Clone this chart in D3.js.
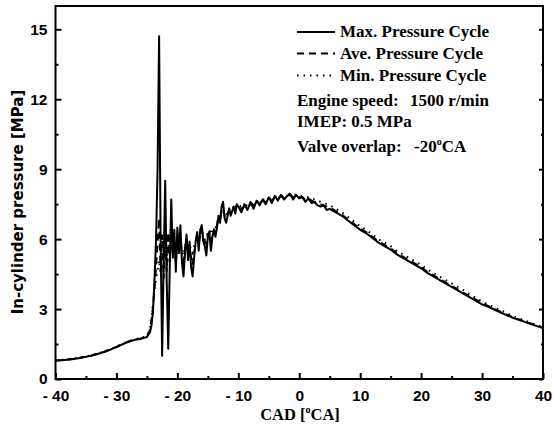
<!DOCTYPE html>
<html><head><meta charset="utf-8">
<script src="https://cdn.jsdelivr.net/npm/d3@7"></script>
<style>
html,body{margin:0;padding:0;background:#fff;}
svg{display:block;}
.tick text{font-family:"Liberation Sans",Arial,sans-serif;font-weight:bold;font-size:15.5px;fill:#000;}
.serif{font-family:"Liberation Serif","Times New Roman",serif;font-weight:bold;}
</style></head>
<body>
<svg id="c" width="554" height="427"></svg>
<script>
// ---- data ----
const cad = [-40,-39,-38,-37,-36,-35,-34,-33,-32,-31,-30,-29,-28,-27,-26,-25,
-24.75,-24.5,-24.25,-24,-23.75,-23.5,-23.25,-23,-22.75,-22.5,-22.25,-22,-21.75,-21.5,-21.25,-21,-20.75,-20.5,-20.25,-20,
-19.75,-19.5,-19.25,-19,-18.75,-18.5,-18.25,-18,-17.75,-17.5,-17.25,-17,-16.75,-16.5,-16.25,-16,-15.75,-15.5,-15.25,-15,
-14.75,-14.5,-14.25,-14,-13.75,-13.5,-13.25,-13,-12.75,-12.5,-12.25,-12,-11.75,-11.5,-11.25,-11,-10.75,-10.5,-10.25,
-10,-9.5,-9,-8.5,-8,-7.5,-7,-6.5,-6,-5.5,-5,-4.5,-4,-3.5,-3,-2.5,-2,-1.5,-1,-0.5,0,0.5,1,1.5,2,2.5,3,3.5,4,4.5,5,
6,7,8,9,10,11,12,13,14,15,16,17,18,19,20,21,22,23,24,25,26,27,28,29,30,31,32,33,34,35,36,37,38,39,40];

const maxP = [0.78,0.80,0.83,0.86,0.90,0.95,1.01,1.08,1.16,1.26,1.37,1.49,1.60,1.68,1.72,1.80,
1.9,2.0,2.3,2.9,4.3,6.0,9.0,14.7,6.0,1.0,5.0,8.5,4.2,1.3,4.8,7.7,5.2,6.4,4.6,6.5,
5.4,6.6,5.0,4.4,5.4,6.2,5.1,5.9,4.8,4.4,5.2,5.9,6.3,5.5,6.4,6.6,5.9,5.7,5.3,6.1,
6.3,5.5,6.1,6.4,6.1,6.5,7.0,6.7,7.4,7.6,6.9,6.7,7.0,7.3,7.0,7.2,7.4,7.1,7.5,
7.4,7.15,7.5,7.25,7.6,7.3,7.65,7.45,7.7,7.5,7.8,7.55,7.85,7.65,7.9,7.7,7.85,7.95,7.7,7.9,7.75,7.8,7.6,7.75,7.55,7.6,7.45,7.4,7.45,7.25,7.3,
7.15,7.0,6.8,6.6,6.4,6.25,6.05,5.85,5.7,5.55,5.35,5.2,5.05,4.9,4.75,4.55,4.4,4.25,4.1,3.95,3.8,3.65,3.5,3.35,3.2,3.1,2.98,2.86,2.74,2.63,2.54,2.45,2.36,2.27,2.18];

const aveP = [0.79,0.81,0.84,0.87,0.91,0.96,1.02,1.09,1.17,1.27,1.38,1.50,1.61,1.69,1.74,1.83,
1.95,2.1,2.5,3.1,3.9,4.8,5.8,6.9,4.6,6.2,4.3,6.6,4.6,6.3,5.0,6.8,5.3,5.9,5.0,6.2,
5.5,6.0,5.3,4.8,5.6,6.0,5.5,5.7,5.2,4.9,5.4,5.8,6.1,5.8,6.2,6.4,6.1,5.9,5.8,6.2,
6.3,5.9,6.2,6.4,6.3,6.6,6.9,6.8,7.2,7.3,7.0,6.9,7.1,7.2,7.1,7.2,7.3,7.2,7.4,
7.4,7.3,7.4,7.35,7.5,7.45,7.55,7.55,7.65,7.6,7.75,7.65,7.8,7.75,7.85,7.75,7.85,7.9,7.8,7.85,7.8,7.8,7.7,7.75,7.65,7.6,7.55,7.5,7.45,7.4,7.35,
7.2,7.05,6.85,6.65,6.45,6.3,6.1,5.9,5.75,5.6,5.4,5.25,5.1,4.95,4.8,4.6,4.45,4.3,4.15,4.0,3.85,3.7,3.55,3.4,3.25,3.13,3.01,2.89,2.77,2.66,2.56,2.47,2.38,2.29,2.2];

const minP = [0.80,0.82,0.85,0.88,0.92,0.97,1.03,1.10,1.18,1.28,1.39,1.51,1.62,1.70,1.76,1.86,
2.0,2.2,2.6,3.2,3.8,4.3,4.7,5.1,4.6,5.4,4.9,5.6,5.1,5.8,5.3,6.0,5.5,5.8,5.4,6.0,
5.6,5.9,5.5,5.3,5.7,5.9,5.6,5.8,5.5,5.4,5.7,5.9,6.1,5.9,6.2,6.3,6.2,6.0,6.0,6.3,
6.4,6.2,6.4,6.5,6.5,6.7,6.9,6.9,7.1,7.2,7.1,7.0,7.2,7.3,7.2,7.3,7.4,7.3,7.5,
7.45,7.4,7.45,7.45,7.55,7.5,7.6,7.6,7.7,7.7,7.75,7.75,7.8,7.8,7.85,7.85,7.9,7.9,7.9,7.9,7.85,7.85,7.8,7.8,7.75,7.7,7.65,7.6,7.55,7.5,7.45,
7.3,7.15,6.95,6.75,6.55,6.4,6.2,6.0,5.85,5.7,5.5,5.35,5.2,5.05,4.9,4.7,4.55,4.4,4.25,4.1,3.95,3.8,3.63,3.47,3.32,3.2,3.07,2.95,2.83,2.71,2.61,2.51,2.41,2.31,2.22];

const xMajor = [-40,-30,-20,-10,0,10,20,30,40];
const xMinor = [-35,-25,-15,-5,5,15,25,35];
const yMajor = [0,3,6,9,12,15];
const yMinor = [1.5,4.5,7.5,10.5,13.5];
const legendItems = ["Max. Pressure Cycle","Ave. Pressure Cycle","Min. Pressure Cycle"];

// ---- layout ----
const L=55.5, R=543, T=6, B=379;
const svg = d3.select("#c");
const x = d3.scaleLinear().domain([-40,40]).range([L,R]);
const y = d3.scaleLinear().domain([0,16]).range([B,T]);

function axisG(gen, tx, ty){
  const g = svg.append("g").attr("transform",`translate(${tx},${ty})`).call(gen);
  g.select(".domain").remove();
  g.selectAll(".tick line").attr("stroke","#000").attr("stroke-width",2);
  return g;
}
const fmtX = d => d<0 ? "- "+Math.abs(d) : String(d);
axisG(d3.axisBottom(x).tickValues(xMajor).tickSize(-6).tickPadding(11).tickFormat(fmtX),0,B);
axisG(d3.axisBottom(x).tickValues(xMinor).tickSize(-3).tickFormat(""),0,B);
axisG(d3.axisLeft(y).tickValues(yMajor).tickSize(-6).tickPadding(8).tickFormat(d3.format("d")),L,0);
axisG(d3.axisLeft(y).tickValues(yMinor).tickSize(-3).tickFormat(""),L,0);
axisG(d3.axisRight(y).tickValues(yMajor).tickSize(-4).tickFormat(""),R,0);
axisG(d3.axisRight(y).tickValues(yMinor).tickSize(-2).tickFormat(""),R,0);

// curves
const line = arr => d3.line().x((d,i)=>x(cad[i])).y(d=>y(d))(arr);
svg.append("path").attr("d",line(minP)).attr("fill","none").attr("stroke","#000")
  .attr("stroke-width",2).attr("stroke-dasharray","1.5,5");
svg.append("path").attr("d",line(aveP)).attr("fill","none").attr("stroke","#000")
  .attr("stroke-width",2).attr("stroke-dasharray","7,5");
svg.append("path").attr("d",line(maxP)).attr("fill","none").attr("stroke","#000")
  .attr("stroke-width",2).attr("stroke-linejoin","round");

// frame
svg.append("rect").attr("x",L).attr("y",T).attr("width",R-L).attr("height",B-T)
  .attr("fill","none").attr("stroke","#000").attr("stroke-width",2);

// axis titles
const xt = svg.append("text").attr("class","serif").attr("x",300).attr("y",420)
  .attr("text-anchor","middle").attr("font-size",16.5);
xt.append("tspan").text("CAD [");
xt.append("tspan").attr("font-size",10).attr("dy",-7).text("o");
xt.append("tspan").attr("dy",7).text("CA]");

svg.append("text").attr("transform","translate(23,202) rotate(-90)")
  .attr("text-anchor","middle").attr("font-family","'DejaVu Sans',Verdana,sans-serif")
  .attr("font-weight","bold").attr("font-size",15).text("In-cylinder pressure [MPa]");

// legend
const dashes = [null,"7,5","1.5,5"];
const rowY = [37,58.5,80.5];
legendItems.forEach((t,i)=>{
  const ln = svg.append("line").attr("x1",297).attr("x2",335).attr("y1",rowY[i]-5).attr("y2",rowY[i]-5)
    .attr("stroke","#000").attr("stroke-width",2);
  if(dashes[i]) ln.attr("stroke-dasharray",dashes[i]);
  svg.append("text").attr("class","serif").attr("x",340).attr("y",rowY[i]).attr("font-size",17).text(t);
});
const es = svg.append("text").attr("class","serif").attr("y",105.5).attr("font-size",17);
es.append("tspan").attr("x",297).text("Engine speed:");
es.append("tspan").attr("x",410).text("1500 r/min");
svg.append("text").attr("class","serif").attr("x",297).attr("y",127).attr("font-size",17)
  .text("IMEP: 0.5 MPa");
const vo = svg.append("text").attr("class","serif").attr("y",152).attr("font-size",17);
vo.append("tspan").attr("x",297).text("Valve overlap:");
vo.append("tspan").attr("x",414).text("-20");
vo.append("tspan").attr("font-size",10).attr("dy",-7).text("o");
vo.append("tspan").attr("dy",7).text("CA");
</script>
</body></html>
